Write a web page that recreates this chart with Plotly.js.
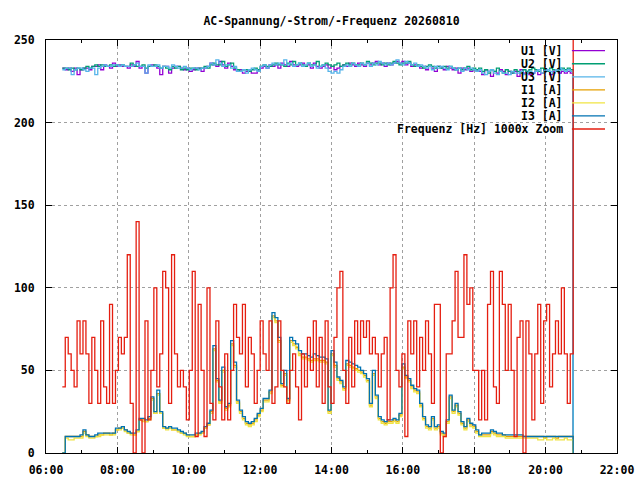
<!DOCTYPE html>
<html>
<head>
<meta charset="utf-8">
<script src="https://cdn.plot.ly/plotly-3.0.1.min.js"></script>
<style>
  html, body { margin: 0; padding: 0; background: #fff; }
  #plot { width: 640px; height: 480px; }
</style>
</head>
<body>
<div id="plot"></div>
<script>
// sampling grid of the logger (hours of day)
let startHour = 6.457;
let stepHour = 0.08275;
let sampleCount = 174;

let tickHours = [6, 8, 10, 12, 14, 16, 18, 20, 22];
let tickLabels = ["06:00", "08:00", "10:00", "12:00", "14:00", "16:00", "18:00", "20:00", "22:00"];

let seriesNames = ["U1 [V]", "U2 [V]", "U3 [V]", "I1 [A]", "I2 [A]", "I3 [A]", "Frequenz [Hz] 1000x Zoom"];
let seriesColors = ["#9400d3", "#009e73", "#56b4e9", "#e69f00", "#f0e442", "#0072b2", "#e51e10"];

let u1 = [
  233, 232, 233, 231, 233, 229, 232, 233, 233, 232,
  234, 234, 235, 232, 235, 234, 233, 236, 234, 235,
  234, 234, 233, 235, 234, 237, 233, 234, 230, 234,
  235, 234, 233, 229, 234, 234, 230, 233, 234, 234,
  233, 232, 233, 231, 232, 233, 233, 231, 233, 234,
  236, 235, 234, 237, 235, 233, 236, 234, 232, 231,
  232, 230, 231, 232, 230, 230, 232, 233, 234, 233,
  235, 234, 235, 233, 236, 235, 234, 237, 235, 234,
  235, 236, 234, 235, 233, 236, 234, 233, 234, 235,
  233, 234, 232, 233, 234, 235, 234, 236, 235, 234,
  236, 235, 234, 236, 235, 236, 237, 235, 236, 234,
  236, 235, 236, 237, 236, 237, 235, 236, 234, 235,
  234, 233, 234, 232, 234, 233, 231, 234, 233, 232,
  234, 233, 232, 233, 230, 233, 232, 233, 231, 232,
  232, 231, 229, 232, 231, 228, 231, 230, 232, 231,
  229, 231, 230, 231, 228, 232, 230, 231, 229, 230,
  231, 229, 230, 232, 231, 229, 231, 232, 230, 231,
  230, 231, 230, 2
];

let u2 = [
  233, 233, 232, 233, 232, 233, 232, 233, 234, 233,
  234, 235, 234, 235, 234, 234, 235, 234, 235, 234,
  235, 234, 234, 236, 235, 234, 234, 235, 233, 234,
  234, 235, 234, 233, 234, 233, 232, 234, 233, 234,
  232, 233, 232, 233, 233, 232, 233, 233, 234, 233,
  235, 236, 235, 235, 237, 234, 235, 236, 233, 232,
  231, 232, 232, 231, 232, 233, 232, 234, 235, 234,
  234, 235, 236, 235, 235, 234, 236, 235, 237, 235,
  236, 235, 234, 236, 235, 235, 237, 234, 235, 236,
  235, 234, 235, 236, 234, 235, 236, 235, 236, 235,
  235, 236, 235, 237, 236, 235, 236, 236, 235, 236,
  235, 236, 237, 236, 235, 236, 236, 237, 235, 234,
  235, 234, 233, 234, 235, 234, 233, 234, 233, 234,
  233, 234, 233, 232, 233, 232, 233, 234, 232, 233,
  232, 233, 231, 232, 230, 232, 231, 233, 231, 230,
  232, 231, 230, 232, 231, 230, 232, 231, 232, 233,
  232, 231, 233, 232, 231, 233, 232, 231, 232, 233,
  232, 233, 232, 1
];

let u3 = [
  232, 233, 233, 229, 232, 233, 233, 232, 231, 233,
  233, 229, 233, 234, 235, 234, 234, 235, 235, 234,
  235, 234, 234, 234, 235, 236, 234, 234, 230, 235,
  234, 234, 235, 233, 234, 234, 233, 235, 234, 233,
  233, 234, 233, 232, 233, 233, 232, 233, 233, 234,
  236, 235, 238, 236, 234, 235, 235, 233, 234, 231,
  231, 232, 230, 232, 233, 232, 231, 234, 235, 233,
  235, 236, 235, 236, 235, 238, 235, 236, 234, 235,
  236, 234, 235, 236, 234, 235, 233, 234, 235, 233,
  231, 230, 231, 230, 232, 234, 235, 234, 236, 235,
  234, 236, 235, 236, 234, 236, 235, 237, 236, 235,
  236, 235, 236, 238, 236, 235, 237, 236, 235, 236,
  234, 235, 234, 233, 234, 232, 234, 233, 234, 233,
  232, 234, 233, 232, 233, 231, 233, 232, 233, 232,
  231, 232, 230, 229, 231, 232, 230, 229, 231, 230,
  230, 229, 231, 230, 230, 231, 229, 230, 231, 230,
  231, 232, 230, 231, 232, 231, 230, 232, 233, 232,
  231, 232, 231, 0
];

let i1 = [
  0, 10, 10, 10, 10, 10, 10, 13, 11, 10,
  10, 10, 11, 11, 12, 12, 11, 12, 14, 15,
  15, 14, 12, 12, 11, 13, 20, 20, 19, 21,
  33, 24, 36, 24, 15, 15, 15, 14, 14, 13,
  12, 12, 11, 10, 10, 11, 12, 12, 15, 17,
  25, 63, 44, 31, 50, 27, 29, 66, 53, 31,
  25, 21, 18, 17, 18, 20, 23, 26, 32, 32,
  37, 83, 80, 68, 41, 48, 32, 68, 66, 64,
  60, 58, 58, 57, 56, 57, 57, 56, 56, 55,
  25, 60, 53, 45, 43, 39, 54, 53, 52, 51,
  50, 49, 47, 44, 29, 48, 34, 21, 19, 18,
  19, 19, 20, 19, 23, 52, 46, 44, 40, 38,
  37, 29, 21, 16, 15, 21, 15, 16, 12, 11,
  19, 34, 25, 29, 24, 18, 15, 20, 17, 16,
  13, 11, 11, 11, 11, 13, 12, 11, 11, 11,
  10, 10, 10, 10, 10, 10, 10, 10, 10, 10,
  10, 10, 10, 9, 10, 10, 10, 9, 10, 10,
  10, 10, 10, 0
];

let i2 = [
  0, 9, 8, 8, 9, 9, 9, 12, 10, 9,
  9, 10, 10, 11, 11, 11, 11, 11, 14, 14,
  15, 13, 12, 11, 11, 13, 20, 19, 19, 20,
  32, 24, 35, 24, 15, 14, 15, 14, 14, 13,
  12, 11, 10, 10, 10, 11, 11, 12, 15, 17,
  24, 62, 43, 30, 49, 26, 28, 65, 52, 30,
  24, 20, 17, 16, 17, 19, 22, 25, 31, 31,
  36, 82, 79, 67, 40, 47, 31, 67, 65, 63,
  59, 57, 57, 56, 55, 56, 56, 55, 55, 54,
  24, 59, 52, 44, 42, 38, 53, 52, 51, 50,
  49, 48, 46, 43, 28, 47, 33, 20, 18, 17,
  18, 18, 19, 18, 22, 51, 45, 43, 39, 37,
  36, 28, 20, 15, 14, 20, 14, 15, 11, 10,
  18, 33, 24, 28, 23, 17, 14, 19, 16, 15,
  12, 10, 10, 10, 10, 12, 11, 10, 10, 10,
  9, 9, 9, 9, 9, 9, 9, 9, 9, 9,
  9, 8, 8, 9, 8, 8, 9, 8, 8, 8,
  9, 8, 8, 0
];

let i3 = [
  0, 10, 10, 10, 10, 10, 11, 14, 11, 10,
  10, 11, 12, 12, 12, 12, 12, 12, 15, 15,
  16, 14, 13, 12, 12, 14, 21, 21, 20, 22,
  34, 25, 38, 25, 16, 15, 16, 15, 15, 14,
  13, 12, 11, 11, 11, 12, 12, 13, 16, 18,
  26, 65, 45, 32, 52, 28, 30, 68, 55, 32,
  26, 22, 19, 18, 19, 21, 24, 27, 33, 33,
  38, 85, 82, 70, 42, 50, 33, 70, 68, 66,
  62, 60, 60, 59, 58, 60, 59, 58, 58, 57,
  26, 62, 55, 46, 44, 40, 56, 55, 54, 53,
  52, 50, 48, 45, 30, 50, 35, 22, 20, 19,
  20, 20, 21, 20, 24, 54, 47, 45, 41, 39,
  38, 30, 22, 17, 16, 22, 16, 17, 13, 12,
  20, 35, 26, 30, 25, 19, 16, 21, 18, 17,
  14, 11, 12, 12, 12, 14, 13, 12, 12, 11,
  11, 11, 11, 11, 11, 11, 10, 10, 10, 10,
  10, 10, 10, 10, 10, 10, 10, 10, 10, 10,
  10, 10, 10, 0
];

// (f - 49.95 Hz) * 1000, as logged
let freq = [
  40, 70, 60, 50, 40, 80, 60, 80, 60, 30,
  70, 50, 30, 80, 40, 30, 90, 30, 50, 70,
  60, 70, 120, 30, 0, 140, 20, 0, 80, 20,
  50, 100, 40, 60, 110, 100, 30, 120, 60, 40,
  50, 40, 20, 50, 110, 10, 90, 50, 10, 100,
  30, 20, 80, 40, 20, 60, 20, 50, 90, 70,
  60, 90, 40, 70, 60, 30, 50, 80, 60, 50,
  80, 30, 40, 80, 50, 40, 30, 50, 60, 40,
  20, 60, 40, 70, 50, 80, 40, 70, 30, 80,
  40, 30, 70, 100, 110, 50, 30, 70, 40, 80,
  60, 80, 70, 80, 60, 70, 60, 40, 60, 70,
  20, 100, 120, 50, 40, 60, 10, 80, 60, 80,
  40, 70, 50, 80, 60, 30, 90, 90, 0, 10,
  60, 60, 80, 110, 70, 70, 120, 90, 100, 50,
  50, 20, 50, 20, 90, 110, 40, 30, 110, 90,
  50, 90, 50, 10, 70, 80, 0, 80, 60, 20,
  60, 90, 30, 80, 90, 40, 60, 80, 60, 100,
  60, 30, 60, 400
];

let hours = [];
for (let k = 0; k < sampleCount; k++) {
  hours.push(startHour + k * stepHour);
}

let allSeries = [u1, u2, u3, i1, i2, i3, freq];

let monoFont = { family: "DejaVu Sans Mono, Liberation Mono, monospace", size: 11.5, color: "#000", weight: "bold" };

let data = allSeries.map((values, n) => {
  return {
    x: hours,
    y: values,
    type: "scatter",
    mode: "lines",
    name: seriesNames[n],
    line: { color: seriesColors[n], width: 1.3, shape: "hv" },
    hoverinfo: "skip"
  };
});

// gnuplot-style key: text right aligned, sample line to the right of it
let annotations = [];
let shapes = [];
let plotTop = 40;
let plotHeight = 413;
seriesNames.forEach((name, n) => {
  let rowY = 1 - (50.7 + 13.05 * n - plotTop) / plotHeight;
  annotations.push({
    xref: "paper",
    yref: "paper",
    x: 0.909,
    y: rowY,
    xanchor: "right",
    yanchor: "middle",
    text: name,
    showarrow: false,
    font: monoFont
  });
  shapes.push({
    type: "line",
    xref: "paper",
    yref: "paper",
    x0: 0.921,
    x1: 0.979,
    y0: rowY,
    y1: rowY,
    line: { color: seriesColors[n], width: 1.3 }
  });
});

let layout = {
  width: 640,
  height: 480,
  margin: { l: 46, r: 23, t: 40, b: 27 },
  paper_bgcolor: "#fff",
  plot_bgcolor: "#fff",
  showlegend: false,
  hovermode: false,
  title: {
    text: "AC-Spannung/-Strom/-Frequenz 20260810",
    font: monoFont,
    x: 0.5,
    xref: "paper",
    y: 1 - 21 / 480,
    yref: "container",
    yanchor: "middle"
  },
  xaxis: {
    range: [6, 22],
    tickmode: "array",
    tickvals: tickHours,
    ticktext: tickLabels,
    ticks: "inside",
    ticklen: 6,
    tickcolor: "#000",
    tickfont: monoFont,
    ticklabelstandoff: 6,
    showline: true,
    linecolor: "#000",
    linewidth: 1,
    mirror: "ticks",
    showgrid: true,
    gridcolor: "#a0a0a0",
    griddash: "dot",
    gridwidth: 1,
    zeroline: false,
    minor: {
      tickmode: "linear",
      tick0: 6,
      dtick: 1,
      ticks: "inside",
      ticklen: 3,
      tickcolor: "#000",
      showgrid: false
    }
  },
  yaxis: {
    range: [0, 250],
    tickmode: "linear",
    tick0: 0,
    dtick: 50,
    ticks: "inside",
    ticklen: 6,
    tickcolor: "#000",
    tickfont: monoFont,
    ticklabelstandoff: 8,
    showline: true,
    linecolor: "#000",
    linewidth: 1,
    mirror: "ticks",
    showgrid: true,
    gridcolor: "#a0a0a0",
    griddash: "dot",
    gridwidth: 1,
    zeroline: false
  },
  annotations: annotations,
  shapes: shapes
};

Plotly.newPlot("plot", data, layout, { staticPlot: true, displayModeBar: false });
</script>
</body>
</html>
